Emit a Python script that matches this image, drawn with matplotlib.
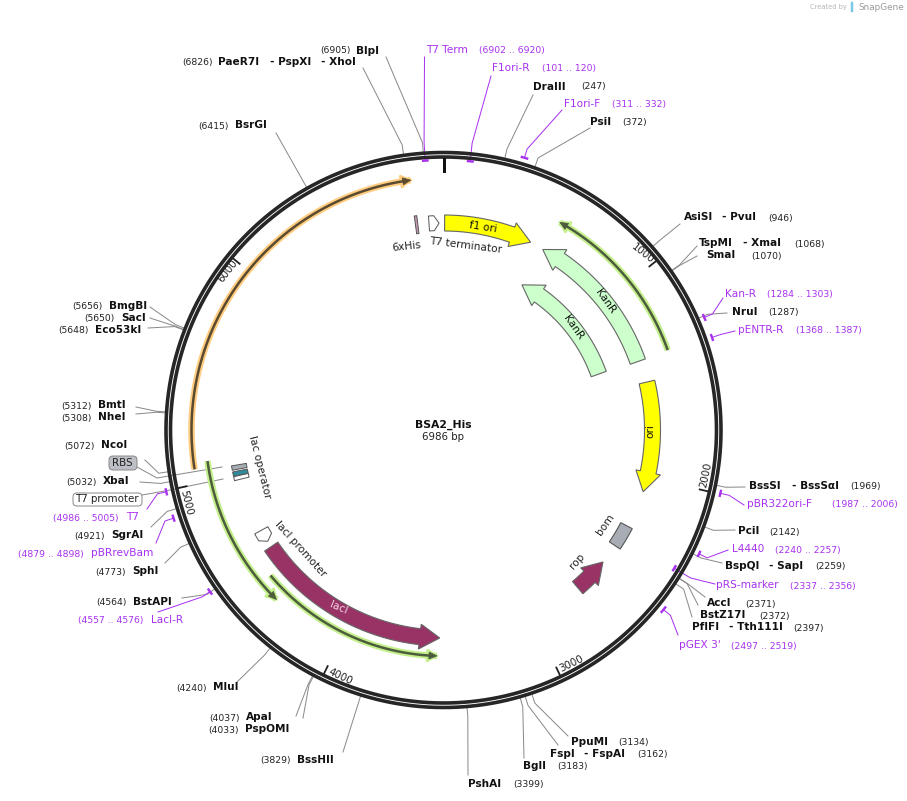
import numpy as np
import matplotlib
matplotlib.use("Agg")
import matplotlib.pyplot as plt
from matplotlib.patches import Polygon, FancyBboxPatch

PLASMID = "BSA2_His"
LENGTH = 6986
TICKS = [1000, 2000, 3000, 4000, 5000, 6000]

# feature: name, start bp, end bp (arrow tip at end), fill
BLOCK_NAMES = ["f1 ori", "KanR", "KanR", "ori", "rop", "lacI"]
BLOCK_START = [6, 1370, 1362, 1489, 2709, 4578]
BLOCK_END = [483, 559, 551, 2080, 2515, 3513]
BLOCK_COLORS = ["#ffff00", "#ccffcc", "#ccffcc", "#ffff00", "#993366", "#993366"]
BLOCK_R = [207, 206, 165, 209, 207, 208]

THIN_START = [1366, 5094, 4462, 5065]
THIN_END = [568, 4358, 3525, 6841]
THIN_DARK = ["#4c5c3c", "#4c5c3c", "#4c5c3c", "#5a4a30"]
THIN_HALO = ["#c4f08c", "#c4f08c", "#c4f08c", "#ffcc80"]
THIN_R = [238, 238, 226, 252]

# primers: name, start, end
PRIMER_START = [6902, 101, 311, 1284, 1368, 1987, 2240, 2337, 2497, 4557, 4879, 4986]
PRIMER_END = [6920, 120, 332, 1303, 1387, 2006, 2257, 2356, 2519, 4576, 4898, 5005]
PRIMER_R = [270, 270, 284, 284, 284, 284, 284, 269, 284, 284, 284, 284]
PRIMER_ANCHOR = [(424.5, 57), (491, 76), (562, 110), (723, 298), (735, 331), (744, 505),
                 (728, 550), (715, 584), (678, 635), (158, 612), (156, 543), (147, 509)]

SITE_POS = [6905, 6826, 247, 372, 6415, 946, 1068, 1070, 1287, 1969, 2142, 2259, 2371,
            2372, 2397, 3134, 3162, 3183, 3399, 3829, 4037, 4033, 4240, 4564, 4773,
            4921, 5032, 5072, 5312, 5308, 5656, 5650, 5648]
SITE_ANCHOR = [(386, 57), (363, 68), (533, 95), (590, 128), (276, 133), (680, 224),
               (697, 246), (697, 256), (727, 313), (745, 487), (735, 530), (722, 563),
               (705, 597), (698, 605), (692, 617), (568, 736), (558, 745), (524, 758),
               (468, 775), (343, 752), (296, 716), (303, 718), (237, 682), (182, 598),
               (165, 563), (151, 527), (140, 482), (145, 460), (136, 407), (136, 414),
               (150, 307), (150, 318), (148, 328)]

NAMES = [(356, 51, "BlpI"), (218, 62, "PaeR7I"), (270, 62, "- PspXI"), (321, 62, "- XhoI"),
         (533, 87, "DraIII"), (590, 122, "PsiI"), (235, 125, "BsrGI"),
         (684, 217, "AsiSI"), (722, 217, "- PvuI"), (699, 243, "TspMI"), (743, 243, "- XmaI"),
         (706, 255, "SmaI"), (732, 312, "NruI"), (749, 486, "BssSI"), (792, 486, "- BssSαI"),
         (738, 531, "PciI"), (725, 566, "BspQI"), (769, 566, "- SapI"), (707, 603, "AccI"),
         (700, 615, "BstZ17I"), (692, 627, "PflFI"), (729, 627, "- Tth111I"),
         (571, 742, "PpuMI"), (550, 754, "FspI"), (584, 754, "- FspAI"), (523, 766, "BglI"),
         (468, 784, "PshAI"), (297, 760, "BssHII"), (246, 717, "ApaI"), (245, 729, "PspOMI"),
         (213, 687, "MluI"), (133, 602, "BstAPI"), (132, 571, "SphI"), (111, 535, "SgrAI"),
         (103, 481, "XbaI"), (101, 445, "NcoI"), (98, 405, "BmtI"), (98, 417, "NheI"),
         (109, 306, "BmgBI"), (121, 318, "SacI"), (95, 330, "Eco53kI")]
NUMBERS = [(320, 51, "(6905)"), (182, 62, "(6826)"), (581, 87, "(247)"), (622, 123, "(372)"),
           (198, 126, "(6415)"), (768, 218, "(946)"), (794, 244, "(1068)"), (751, 256, "(1070)"),
           (768, 313, "(1287)"), (850, 487, "(1969)"), (769, 532, "(2142)"), (815, 567, "(2259)"),
           (745, 604, "(2371)"), (759, 616, "(2372)"), (793, 628, "(2397)"), (618, 743, "(3134)"),
           (637, 755, "(3162)"), (557, 767, "(3183)"), (513, 785, "(3399)"), (260, 761, "(3829)"),
           (209, 718, "(4037)"), (208, 730, "(4033)"), (176, 688, "(4240)"), (96, 603, "(4564)"),
           (95, 572, "(4773)"), (74, 536, "(4921)"), (66, 482, "(5032)"), (64, 446, "(5072)"),
           (61, 406, "(5312)"), (61, 418, "(5308)"), (72, 307, "(5656)"), (84, 319, "(5650)"),
           (58, 331, "(5648)")]
PRIMER_NAMES = [(426, 50, "T7 Term"), (492, 68, "F1ori-R"), (564, 104, "F1ori-F"), (725, 294, "Kan-R"),
                (738, 330, "pENTR-R"), (747, 504, "pBR322ori-F"), (732, 549, "L4440"),
                (716, 585, "pRS-marker"), (679, 645, "pGEX 3'"), (151, 620, "LacI-R"),
                (91, 553, "pBRrevBam"), (126, 517, "T7")]
PRIMER_RANGES = [(479, 51, "(6902 .. 6920)"), (542, 69, "(101 .. 120)"), (612, 105, "(311 .. 332)"),
                 (767, 295, "(1284 .. 1303)"), (796, 331, "(1368 .. 1387)"), (832, 505, "(1987 .. 2006)"),
                 (775, 550, "(2240 .. 2257)"), (790, 586, "(2337 .. 2356)"), (731, 646, "(2497 .. 2519)"),
                 (78, 621, "(4557 .. 4576)"), (18, 554, "(4879 .. 4898)"), (53, 518, "(4986 .. 5005)")]

CX, CY = 443.5, 430.0
PURPLE = "#a832f0"
px = 0.72

fig = plt.figure(figsize=(9.07, 8.01), dpi=100)
ax = fig.add_axes([0, 0, 1, 1])
ax.set_xlim(0, 907)
ax.set_ylim(801, 0)
ax.axis("off")


def theta(bp):
    return np.radians(np.asarray(bp, dtype=float) / LENGTH * 360.0)


def pol(bp, r):
    t = theta(bp)
    return CX + r * np.sin(t), CY - r * np.cos(t)


def span(a, b, n=120):
    # shorter way round the circle
    d = (b - a + LENGTH / 2) % LENGTH - LENGTH / 2
    return a + d * np.linspace(0, 1, n)


def arrow(a, b, r, w, hw, hl, fc, ec="#666666", z=3, lw=0.8):
    d = (b - a + LENGTH / 2) % LENGTH - LENGTH / 2
    hbp = np.sign(d) * hl / r / (2 * np.pi) * LENGTH
    shaft = span(a, b - hbp)
    xo, yo = pol(shaft, r + w / 2)
    xi, yi = pol(shaft, r - w / 2)
    neck = b - hbp
    pts = list(zip(xo, yo))
    pts.append(pol(neck, r + hw / 2))
    pts.append(pol(b, r))
    pts.append(pol(neck, r - hw / 2))
    pts += list(zip(xi[::-1], yi[::-1]))
    ax.add_patch(Polygon(pts, closed=True, fc=fc, ec=ec, lw=lw, zorder=z, joinstyle="miter"))


# backbone
full = np.linspace(0, LENGTH, 720)
for r in (277.5, 273.0):
    ax.plot(*pol(full, r), color="#262626", lw=3.6 * px, zorder=2, solid_capstyle="butt")

# ticks
ax.plot(*pol(np.array([0, 0]), np.array([271, 259])), color="#111111", lw=3 * px, zorder=2)
for t in TICKS:
    ax.plot(*pol(np.array([t, t]), np.array([271, 263])), color="#222222", lw=1.8 * px, zorder=2)
TICK_TXT = [(643, 254, -38), (706, 475, 78), (571, 664, 26), (340, 677, -25), (186, 503, -76), (228, 271, 52)]
for t, (x, y, rot) in zip(TICKS, TICK_TXT):
    ax.text(x, y, str(t), fontsize=7.4, rotation=rot, ha="center", va="center", rotation_mode="anchor", color="#222222")

# big features
for s, e, c, r in zip(BLOCK_START, BLOCK_END, BLOCK_COLORS, BLOCK_R):
    arrow(s, e, r, 16, 25, 20, c)

# thin annotated arrows
for s, e, d, hc, r in zip(THIN_START, THIN_END, THIN_DARK, THIN_HALO, THIN_R):
    bp = span(s, e)
    ax.plot(*pol(bp, r), color=hc, lw=6.5 * px, zorder=3, solid_capstyle="butt")
    sign = np.sign((e - s + LENGTH / 2) % LENGTH - LENGTH / 2)
    hb = sign * 10 / r / (2 * np.pi) * LENGTH
    hp = [pol(e - hb, r + 6), pol(e, r), pol(e - hb, r - 6)]
    ax.add_patch(Polygon(hp, closed=True, fc=hc, ec=hc, lw=2 * px, zorder=3))
    ax.plot(*pol(span(s, e - hb * 0.5), r), color=d, lw=2.5 * px, zorder=4, solid_capstyle="butt")
    hp2 = [pol(e - hb * 0.8, r + 3.5), pol(e, r), pol(e - hb * 0.8, r - 3.5)]
    ax.add_patch(Polygon(hp2, closed=True, fc=d, ec=d, lw=0.5, zorder=4))

# bom rectangle
bp = span(2282, 2406, 20)
pts = list(zip(*pol(bp, 213))) + list(zip(*pol(bp[::-1], 200)))
ax.add_patch(Polygon(pts, closed=True, fc="#a8adb5", ec="#555555", lw=0.8, zorder=3))

# lac operator, RBS, T7 promoter blocks
for s, e, c in [(5053, 5030, "#a8adb5"), (5021, 4997, "#2f8a9c"), (4996, 4975, "#ffffff")]:
    bp = span(s, e, 8)
    pts = list(zip(*pol(bp, 215))) + list(zip(*pol(bp[::-1], 200)))
    ax.add_patch(Polygon(pts, closed=True, fc=c, ec="#555555", lw=0.7, zorder=3))

# small arrows and slivers
arrow(6908, 6962, 207, 15, 15, 5, "#ffffff", ec="#555555", lw=0.7)
arrow(4680, 4612, 208, 15, 15, 5, "#ffffff", ec="#555555", lw=0.7)
bp = span(6835, 6848, 8)
pts = list(zip(*pol(bp, 216))) + list(zip(*pol(bp[::-1], 198)))
ax.add_patch(Polygon(pts, closed=True, fc="#c79ab4", ec="#555555", lw=0.7, zorder=3))

# restriction site leader lines
for bp, (ax_x, ax_y) in zip(SITE_POS, SITE_ANCHOR):
    x0, y0 = pol(bp, 279)
    x1, y1 = pol(bp, 288)
    ax.plot([x0, x1, ax_x], [y0, y1, ax_y], color="#8a8a8a", lw=1.0 * px, zorder=1)

# long leaders through the ring to the operator/promoter blocks
for xs, ys in [((137, 157, 222), (467, 478, 467)), ((142, 165, 223), (495, 491, 479))]:
    ax.plot(xs, ys, color="#8a8a8a", lw=1.0 * px, zorder=1)

# primers
for s, e, r, (ax_x, ax_y) in zip(PRIMER_START, PRIMER_END, PRIMER_R, PRIMER_ANCHOR):
    bp = span(s - 5, e + 5, 10)
    ax.plot(*pol(bp, r), color=PURPLE, lw=2.4 * px, zorder=4, solid_capstyle="butt")
    mid = (s + e) / 2
    x0, y0 = pol(mid, r)
    x1, y1 = pol(mid, max(r, 279) + 9)
    ax.plot([x0, x1, ax_x], [y0, y1, ax_y], color=PURPLE, lw=1.0 * px, zorder=1)

# site and primer labels
for x, y, s in NAMES:
    ax.text(x, y, s, fontsize=7.6, fontweight="bold", ha="left", va="center", color="#111111")
for x, y, s in NUMBERS:
    ax.text(x, y, s, fontsize=6.7, ha="left", va="center", color="#222222")
for x, y, s in PRIMER_NAMES:
    ax.text(x, y, s, fontsize=7.6, ha="left", va="center", color=PURPLE)
for x, y, s in PRIMER_RANGES:
    ax.text(x, y, s, fontsize=6.7, ha="left", va="center", color=PURPLE)

# pills
ax.add_patch(FancyBboxPatch((111, 458), 24, 10, boxstyle="round,pad=2,rounding_size=4",
                            fc="#bcc0c6", ec="#888888", lw=0.7, zorder=4))
ax.text(122, 463.5, "RBS", fontsize=7.4, ha="center", va="center", color="#222222", zorder=5)
ax.add_patch(FancyBboxPatch((75, 495), 65, 9, boxstyle="round,pad=2,rounding_size=4",
                            fc="#ffffff", ec="#888888", lw=0.7, zorder=4))
ax.text(106.5, 499.5, "T7 promoter", fontsize=7.4, ha="center", va="center", color="#222222", zorder=5)

# feature labels
FEATURE_TEXT = [("f1 ori", 483, 227, -9, "#111111"), ("KanR", 605, 301, -55, "#111111"),
                ("KanR", 573, 327, -55, "#111111"), ("ori", 650, 431, 90, "#111111"),
                ("lacI", 339, 608, -23, "#f5d8e6"), ("rop", 577, 561, 48, "#222222"),
                ("bom", 605, 525, 55, "#222222"), ("6xHis", 406, 246, 6, "#222222"),
                ("T7 terminator", 466, 245, -7, "#222222"), ("lac operator", 260, 467, -76, "#222222"),
                ("lacI promoter", 301, 549, -48, "#222222")]
for s, x, y, rot, c in FEATURE_TEXT:
    ax.text(x, y, s, fontsize=7.6, rotation=rot, ha="center", va="center", color=c, zorder=6,
            rotation_mode="anchor")

# centre
ax.text(443, 424.5, PLASMID, fontsize=7.8, fontweight="bold", ha="center", va="center", color="#111111")
ax.text(443, 437, f"{LENGTH} bp", fontsize=7.4, ha="center", va="center", color="#222222")

# brand
ax.text(828, 7, "Created by", fontsize=4.8, ha="center", va="center", color="#b5b5b5")
ax.plot([851.5, 851.5], [3, 11], color="#7cc8e8", lw=2.5 * px)
ax.text(881, 7, "SnapGene", fontsize=6.4, ha="center", va="center", color="#9a9a9a")

fig.savefig("out.png", dpi=100)
